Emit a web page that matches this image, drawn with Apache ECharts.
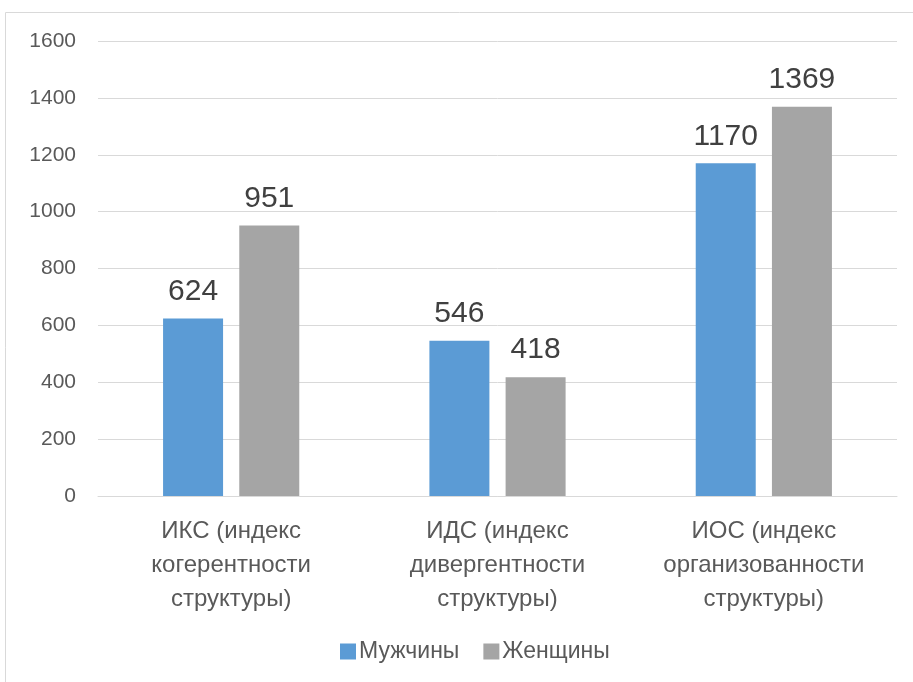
<!DOCTYPE html>
<html>
<head>
<meta charset="utf-8">
<script src="https://cdn.jsdelivr.net/npm/echarts@6/dist/echarts.min.js"></script>
<style>
  html, body { margin: 0; padding: 0; background: #fff; }
  #chart { width: 913px; height: 682px; }
</style>
</head>
<body>
<div id="chart"></div>
<script>
// данные
const categories = [
  'ИКС (индекс\nкогерентности\nструктуры)',
  'ИДС (индекс\nдивергентности\nструктуры)',
  'ИОС (индекс\nорганизованности\nструктуры)'
];
const men = [624, 546, 1170];
const women = [951, 418, 1369];
const yTicks = [0, 200, 400, 600, 800, 1000, 1200, 1400, 1600];

const FONT = '"Liberation Sans", Arial, sans-serif';

const chart = echarts.init(document.getElementById('chart'));

const labelStyle = {
  show: true,
  position: 'top',
  distance: 12,
  fontFamily: FONT,
  fontSize: 30,
  color: '#404040'
};

chart.setOption({
  animation: false,
  textStyle: { fontFamily: FONT },
  graphic: [
    {
      type: 'rect',
      shape: { x: 5.5, y: 12.5, width: 1000, height: 1000 },
      style: { fill: 'none', stroke: '#d9d9d9', lineWidth: 1 },
      silent: true
    }
  ],
  grid: { left: 98, right: 16, top: 41, bottom: 186 },
  legend: {
    bottom: 14,
    left: 335,
    itemWidth: 16,
    itemHeight: 16,
    itemGap: 24,
    icon: 'rect',
    textStyle: { fontFamily: FONT, fontSize: 23, color: '#595959', padding: [0, 0, 0, -2] },
    data: ['Мужчины', 'Женщины']
  },
  xAxis: {
    type: 'category',
    data: categories,
    axisLine: { lineStyle: { color: '#d9d9d9', width: 1 } },
    axisTick: { show: false },
    axisLabel: {
      interval: 0,
      margin: 18,
      fontFamily: FONT,
      fontSize: 24,
      lineHeight: 34,
      color: '#595959'
    }
  },
  yAxis: {
    type: 'value',
    min: yTicks[0],
    max: yTicks[yTicks.length - 1],
    interval: 200,
    axisLine: { show: false },
    axisTick: { show: false },
    splitLine: { lineStyle: { color: '#d9d9d9', width: 1 } },
    axisLabel: {
      margin: 22,
      fontFamily: FONT,
      fontSize: 21,
      color: '#595959',
      formatter: (v) => String(v)
    }
  },
  series: [
    {
      name: 'Мужчины',
      type: 'bar',
      data: men,
      barWidth: 60,
      barGap: '27%',
      itemStyle: { color: '#5b9bd5' },
      label: labelStyle
    },
    {
      name: 'Женщины',
      type: 'bar',
      data: women,
      barWidth: 60,
      itemStyle: { color: '#a5a5a5' },
      label: labelStyle
    }
  ]
});
</script>
</body>
</html>
